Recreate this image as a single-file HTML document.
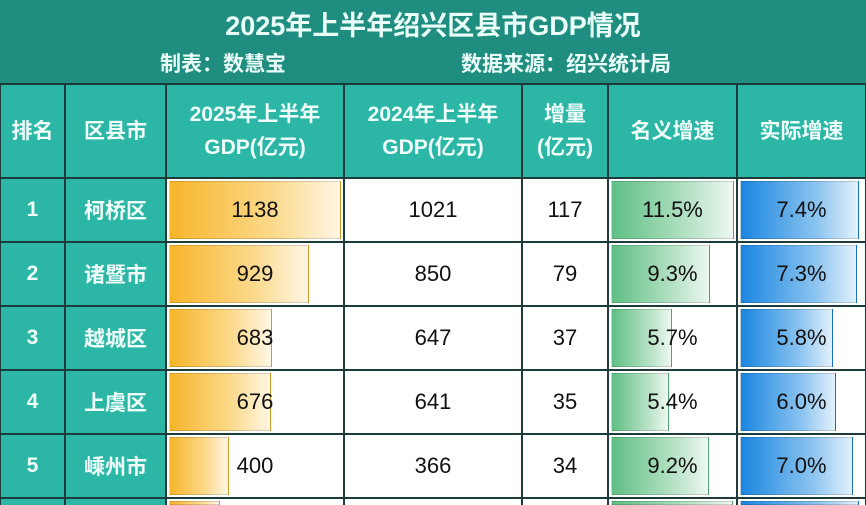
<!DOCTYPE html>
<html><head><meta charset="utf-8">
<style>
html,body{margin:0;width:866px;height:505px;overflow:hidden;background:#1c3b3a;font-family:"Liberation Sans","Noto Sans CJK SC",sans-serif;}
#wrap{position:relative;width:866px;height:505px;overflow:hidden;}
.abs{position:absolute;box-sizing:border-box;overflow:hidden;}
#title{left:0;top:0;width:866px;height:83px;background:#1f8e80;color:#eafff8;}
.t1{position:absolute;left:0;width:866px;text-align:center;top:4px;font-size:27px;font-weight:bold;}
.t2{position:absolute;top:48px;font-size:21px;font-weight:bold;}
.hd{background:#2bb6a6;color:#f0fffb;font-weight:bold;font-size:21px;display:flex;align-items:center;justify-content:center;text-align:center;line-height:33px;}
.cell{background:#fff;color:#111;font-size:22px;display:flex;align-items:center;justify-content:center;}
.tc{background:#2bb6a6;color:#f0fffb;font-weight:bold;font-size:21px;display:flex;align-items:center;justify-content:center;}
.bar{position:absolute;box-sizing:border-box;border:1px solid rgba(0,0,0,0.15);}
.lbl{position:absolute;top:0;left:0;width:100%;display:flex;align-items:center;justify-content:center;font-size:22px;color:#111;}
</style></head><body>
<div id="wrap">
<div id="title" class="abs">
<div class="t1">2025年上半年绍兴区县市GDP情况</div>
<div class="t2" style="left:160px">制表：数慧宝</div>
<div class="t2" style="left:461px">数据来源：绍兴统计局</div>
</div>
</div>
<script>
const ranks=["1","2","3","4","5","6"];
const regions=["柯桥区","诸暨市","越城区","上虞区","嵊州市","新昌县"];
const gdp2025=[1138,929,683,676,400,335];
const gdp2024=[1021,850,647,641,366,300];
const increase=[117,79,37,35,34,35];
const nominal=[11.5,9.3,5.7,5.4,9.2,11.4];
const real=[7.4,7.3,5.8,6.0,7.0,7.6];
const headers=["排名","区县市","2025年上半年<br>GDP(亿元)","2024年上半年<br>GDP(亿元)","增量<br>(亿元)","名义增速","实际增速"];
const colX=[0,65,166,344,522,608,737,866];
const wrap=document.getElementById('wrap');
const headTop=85,headH=92,rowTop=179,rowH=64,gap=2;
const colNames=["rank","region","gdp-2025","gdp-2024","increase","nominal-growth","real-growth"];
function box(cls,x,y,w,h){const d=document.createElement('div');d.className='abs '+cls;d.style.left=x+'px';d.style.top=y+'px';d.style.width=w+'px';d.style.height=h+'px';wrap.appendChild(d);return d;}
headers.forEach((h,i)=>{const d=box('hd',colX[i]+1,headTop,colX[i+1]-colX[i]-2,headH);d.innerHTML=h;

});
const maxG=Math.max(...gdp2025),maxN=Math.max(...nominal),maxR=7.4;
function addBar(cell,val,max,full,h,grad,name){
 const b=document.createElement('div');b.className='bar';
 b.style.left='2px';b.style.top='2px';b.style.height=Math.max(0,Math.min(rowH-6,h-2))+'px';
 b.style.width=Math.min(full,full*val/max)+'px';b.style.background=grad;
 
 
 cell.appendChild(b);}
function addLbl(cell,txt,h,name){if(h<rowH-gap)return;const l=document.createElement('div');l.className='lbl';l.style.height=h+'px';l.textContent=txt;
 
 
 cell.appendChild(l);}
regions.forEach((r,i)=>{
 const y=rowTop+i*rowH;
 const h=Math.min(rowH-gap,505-y);
 if(h<=0)return;
 const row=[ranks[i],r,gdp2025[i],gdp2024[i],increase[i],nominal[i].toFixed(1)+'%',real[i].toFixed(1)+'%'];
 for(let c=0;c<7;c++){
  const w=colX[c+1]-colX[c]-2;
  const d=box(c<2?'tc':'cell',colX[c]+1,y,w,h);
  
  
  if(c<2){if(h>=rowH-gap)d.textContent=row[c];}
  else if(c===2){addBar(d,gdp2025[i],maxG,w-4,h,'linear-gradient(90deg,#f7b52a,#fbd98a 60%,#fff6e4)','bar-gdp-'+(i+1));addLbl(d,row[c],h,'value-gdp-'+(i+1));}
  else if(c===5){addBar(d,nominal[i],maxN,w-4,h,'linear-gradient(90deg,#5fbf84,#bfe5cc 70%,#eef8f1)','bar-nominal-'+(i+1));addLbl(d,row[c],h,'value-nominal-'+(i+1));}
  else if(c===6){addBar(d,real[i],maxR,w-8,h,'linear-gradient(90deg,#1a86e0,#8cc4f0 65%,#e3f1fc)','bar-real-'+(i+1));addLbl(d,row[c],h,'value-real-'+(i+1));}
  else {if(h>=rowH-gap)d.textContent=row[c];}
 }
});
</script>
</body></html>
